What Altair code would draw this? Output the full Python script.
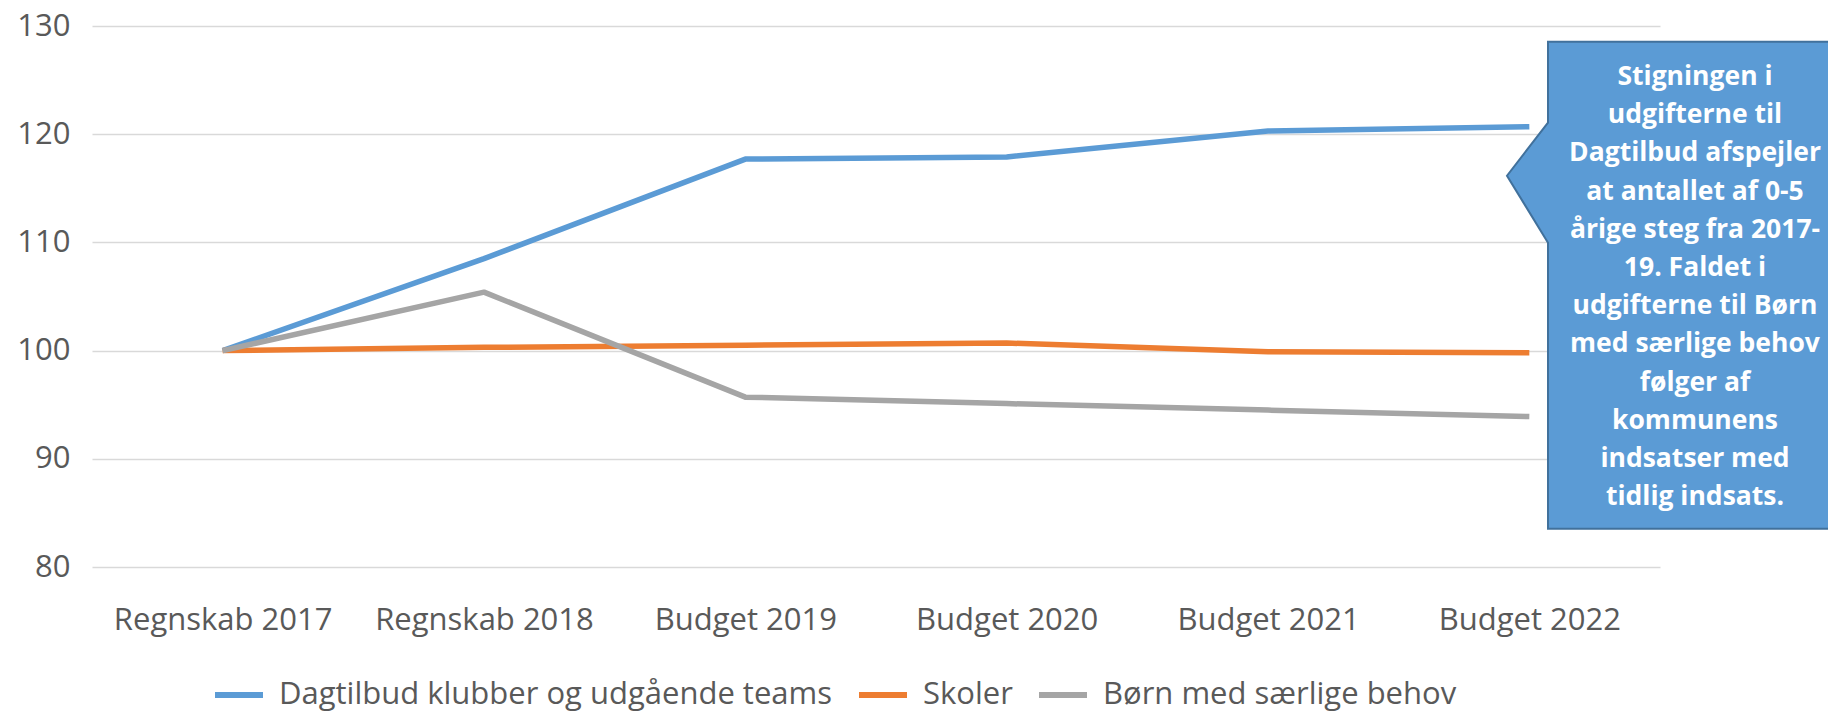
import altair as alt
import pandas as pd

CATEGORIES = ["Regnskab 2017", "Regnskab 2018", "Budget 2019", "Budget 2020", "Budget 2021", "Budget 2022"]
SERIES = ["Dagtilbud klubber og udgående teams", "Skoler", "Børn med særlige behov"]
DAGTILBUD = [100.0, 108.5, 117.7, 117.9, 120.3, 120.7]
SKOLER = [100.0, 100.3, 100.5, 100.7, 99.9, 99.8]
BOERN = [100.0, 105.4, 95.7, 95.1, 94.5, 93.9]
COLORS = ["#5B9BD5", "#ED7D31", "#A5A5A5"]
Y_TICKS = [80, 90, 100, 110, 120, 130]
NOTE_LINES = [
    "Stigningen i",
    "udgifterne til",
    "Dagtilbud afspejler",
    "at antallet af 0-5",
    "årige steg fra 2017-",
    "19. Faldet i",
    "udgifterne til Børn",
    "med særlige behov",
    "følger af",
    "kommunens",
    "indsatser med",
    "tidlig indsats.",
]

rows = []
for name, vals in zip(SERIES, [DAGTILBUD, SKOLER, BOERN]):
    for cat, v in zip(CATEGORIES, vals):
        rows.append({"Kategori": cat, "Serie": name, "Indeks": v})
df = pd.DataFrame(rows)

FONT = "Open Sans"
LABEL_COLOR = "#595959"

lines = alt.Chart(df).mark_line(strokeWidth=5.5, strokeCap="butt", strokeJoin="round").encode(
    x=alt.X("Kategori:N", sort=CATEGORIES, scale=alt.Scale(type="point", padding=0.5),
            axis=alt.Axis(title=None, labelAngle=0, labelPadding=38, domain=False, ticks=False, grid=False,
                          labelFont=FONT, labelFontSize=31, labelColor=LABEL_COLOR, labelLimit=0)),
    y=alt.Y("Indeks:Q", scale=alt.Scale(domain=[80, 130], nice=False, zero=False),
            axis=alt.Axis(title=None, values=Y_TICKS, grid=True, gridColor="#D9D9D9", gridWidth=1.3,
                          domain=False, ticks=False, labelPadding=22,
                          labelFont=FONT, labelFontSize=31, labelColor=LABEL_COLOR)),
    color=alt.Color("Serie:N", scale=alt.Scale(domain=SERIES, range=COLORS),
                    legend=alt.Legend(title=None, orient="none", legendX=120, legendY=642,
                                      direction="horizontal", symbolType="stroke", symbolSize=2304,
                                      symbolStrokeWidth=6, labelFont=FONT, labelFontSize=31,
                                      labelColor=LABEL_COLOR, labelOffset=13, columnPadding=14,
                                      labelLimit=0)),
)

CALLOUT_PATH = "M0,0 L420,0 L420,487 L0,487 L0,201 L-41,134 L0,81 Z"

callout = alt.Chart(pd.DataFrame({"k": [0]})).mark_point(
    shape=CALLOUT_PATH, size=4, filled=True, fill="#5B9BD5", stroke="#41719C",
    strokeWidth=2, opacity=1, fillOpacity=1, strokeOpacity=1
).encode(x=alt.value(1456), y=alt.value(15.7))

note = alt.Chart(pd.DataFrame({"k": [0]})).mark_text(
    font=FONT, fontSize=26.5, fontWeight="bold", color="white", align="center",
    baseline="middle", lineHeight=38.2
).encode(x=alt.value(1603), y=alt.value(51), text=alt.value(NOTE_LINES))

chart = alt.layer(lines, callout, note).properties(
    width=1568, height=541,
    padding={"left": 84, "top": 18, "right": 168, "bottom": 147},
    autosize=alt.AutoSizeParams(type="none"),
).configure_view(stroke=None)

chart.save("out.html", embed_options={"renderer": "svg", "actions": False})
